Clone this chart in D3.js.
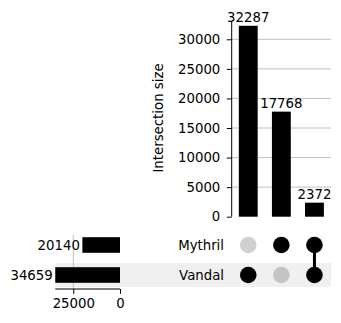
<!DOCTYPE html>
<html>
<head>
<meta charset="utf-8">
<script src="https://cdn.jsdelivr.net/npm/d3@7"></script>
<style>
  body { margin: 0; background: #fff; }
  text { font-family: "DejaVu Sans", sans-serif; font-size: 13.3px; fill: #000; }
</style>
</head>
<body>
<div id="chart"></div>
<script>
var width = 341;
var height = 323;

// sets shown in the matrix, top to bottom
var sets = ["Mythril", "Vandal"];
var setSizes = [20140, 34659];

// intersections, left to right
var members = [["Vandal"], ["Mythril"], ["Mythril", "Vandal"]];
var sizes = [32287, 17768, 2372];

var sizeTicks = [0, 5000, 10000, 15000, 20000, 25000, 30000];
var totalTicks = [25000, 0];

var svg = d3.select("#chart").append("svg")
    .attr("width", width)
    .attr("height", height);

// scales
var xCol = d3.scaleBand()
    .domain(d3.range(sizes.length))
    .range([231.7, 331])
    .paddingInner(0.43)
    .paddingOuter(0.215);

var ySize = d3.scaleLinear()
    .domain([0, 30000])
    .range([216.7, 39.3]);

var yRow = d3.scaleBand()
    .domain(sets)
    .range([230, 290]);

var xTot = d3.scaleLinear()
    .domain([0, 25000])
    .range([120, 73.3]);

// shading on every other row
var shadeLeft = xTot(d3.max(setSizes));
svg.selectAll(".shade")
    .data(sets.filter((d, i) => i % 2 == 1))
    .enter().append("rect")
    .attr("x", shadeLeft)
    .attr("y", d => yRow(d) + yRow.bandwidth() * 0.1)
    .attr("width", 331 - shadeLeft)
    .attr("height", yRow.bandwidth() * 0.8)
    .attr("fill", "#f0f0f0");

// intersection size chart
var gTop = svg.append("g");

gTop.selectAll(".grid")
    .data(sizeTicks.slice(1))
    .enter().append("line")
    .attr("x1", 231.7).attr("x2", 331)
    .attr("y1", d => ySize(d)).attr("y2", d => ySize(d))
    .attr("stroke", "#b0b0b0")
    .attr("stroke-width", 0.8);

gTop.selectAll(".bar")
    .data(sizes)
    .enter().append("rect")
    .attr("x", (d, i) => xCol(i))
    .attr("width", xCol.bandwidth())
    .attr("y", d => ySize(d))
    .attr("height", d => ySize(0) - ySize(d))
    .attr("fill", "#000");

gTop.selectAll(".barLabel")
    .data(sizes)
    .enter().append("text")
    .attr("x", (d, i) => xCol(i) + xCol.bandwidth() / 2)
    .attr("y", d => ySize(d) - 3.5)
    .attr("text-anchor", "middle")
    .text(d => d);

var yAxis = d3.axisLeft(ySize)
    .tickValues(sizeTicks)
    .tickFormat(d3.format("d"))
    .tickSize(4.9)
    .tickPadding(6.5);

var ax = gTop.append("g")
    .attr("transform", "translate(231.7,0)")
    .call(yAxis)
    .attr("font-size", 13.3)
    .attr("font-family", "DejaVu Sans");
ax.select(".domain").attr("d", "M0," + ySize(32980) + "V" + ySize(0)).attr("stroke", "#000").attr("stroke-width", 1);
ax.selectAll(".tick line").attr("stroke", "#000");
ax.selectAll(".tick text").attr("fill", "#000");

gTop.append("text")
    .attr("transform", "translate(163,118) rotate(-90)")
    .attr("text-anchor", "middle")
    .text("Intersection size");

// matrix
var gMat = svg.append("g");

sets.forEach(function(s) {
    gMat.append("text")
        .attr("x", 224)
        .attr("y", yRow(s) + yRow.bandwidth() / 2)
        .attr("dy", "0.35em")
        .attr("text-anchor", "end")
        .text(s);
});

var cells = [];
members.forEach(function(m, i) {
    sets.forEach(function(s) {
        cells.push({col: i, set: s, on: m.indexOf(s) >= 0});
    });
});

members.forEach(function(m, i) {
    if (m.length < 2) return;
    var ys = m.map(s => yRow(s) + yRow.bandwidth() / 2);
    gMat.append("line")
        .attr("x1", xCol(i) + xCol.bandwidth() / 2)
        .attr("x2", xCol(i) + xCol.bandwidth() / 2)
        .attr("y1", d3.min(ys)).attr("y2", d3.max(ys))
        .attr("stroke", "#000")
        .attr("stroke-width", 3);
});

gMat.selectAll(".dot")
    .data(cells)
    .enter().append("circle")
    .attr("cx", d => xCol(d.col) + xCol.bandwidth() / 2)
    .attr("cy", d => yRow(d.set) + yRow.bandwidth() / 2)
    .attr("r", 8.3)
    .attr("fill", d => d.on ? "#000" : (sets.indexOf(d.set) % 2 == 1 ? "#c4c4c4" : "#d0d0d0"));

// set totals
var gTot = svg.append("g");

gTot.selectAll(".tgrid")
    .data(totalTicks.filter(d => d > 0))
    .enter().append("line")
    .attr("x1", d => xTot(d)).attr("x2", d => xTot(d))
    .attr("y1", 235).attr("y2", 289)
    .attr("stroke", "#b0b0b0")
    .attr("stroke-width", 0.8);

var barH = yRow.bandwidth() * 0.52;
gTot.selectAll(".tbar")
    .data(setSizes)
    .enter().append("rect")
    .attr("x", d => xTot(d))
    .attr("width", d => xTot(0) - xTot(d))
    .attr("y", (d, i) => yRow(sets[i]) + (yRow.bandwidth() - barH) / 2)
    .attr("height", barH)
    .attr("fill", "#000");

gTot.selectAll(".tlabel")
    .data(setSizes)
    .enter().append("text")
    .attr("x", d => xTot(d) - 2.5)
    .attr("y", (d, i) => yRow(sets[i]) + yRow.bandwidth() / 2)
    .attr("dy", "0.35em")
    .attr("text-anchor", "end")
    .text(d => d);

var xAxis = d3.axisBottom(xTot)
    .tickValues(totalTicks)
    .tickFormat(d3.format("d"))
    .tickSize(4.9)
    .tickPadding(4.7);

var bx = gTot.append("g")
    .attr("transform", "translate(0,289)")
    .call(xAxis)
    .attr("font-size", 13.3)
    .attr("font-family", "DejaVu Sans");
bx.select(".domain").attr("d", "M" + xTot(d3.max(setSizes)) + ",0H" + xTot(0)).attr("stroke", "#000").attr("stroke-width", 1);
bx.selectAll(".tick line").attr("stroke", "#000");
bx.selectAll(".tick text").attr("fill", "#000");
</script>
</body>
</html>
